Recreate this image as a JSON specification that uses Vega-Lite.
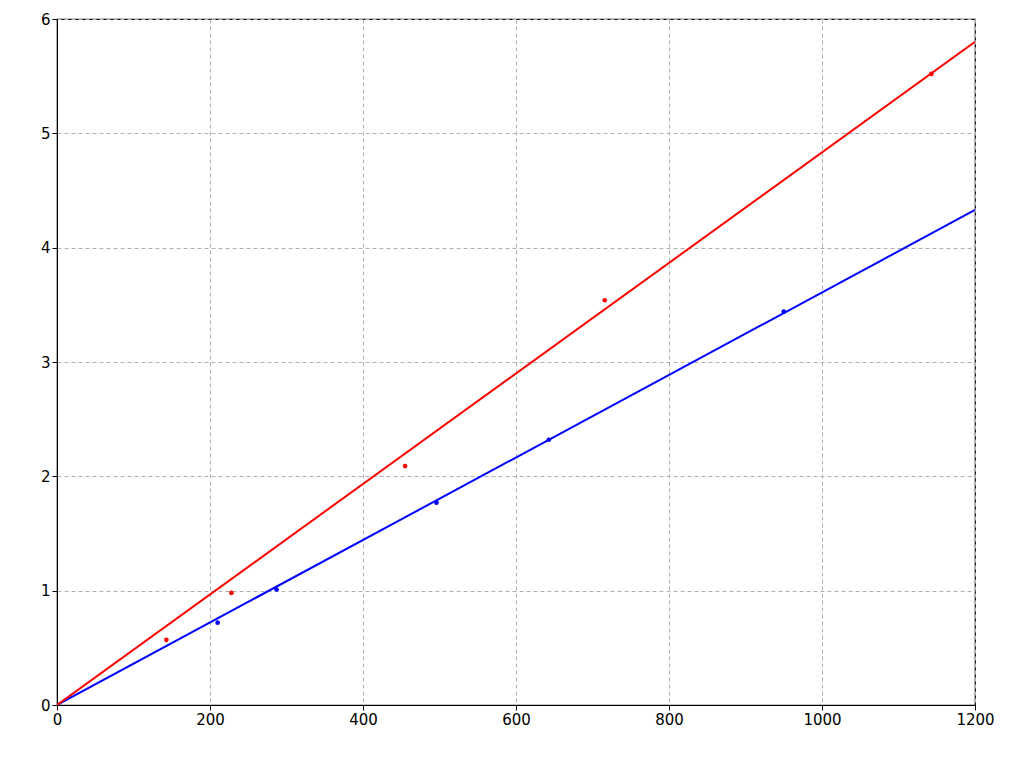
{
  "$schema": "https://vega.github.io/schema/vega-lite/v6.json",
  "width": 918,
  "height": 686,
  "autosize": {"type": "none"},
  "padding": {"left": 57, "top": 19, "right": 45, "bottom": 61},
  "background": "#ffffff",
  "view": {"stroke": "#000000", "strokeWidth": 1.2},
  "datasets": {
    "points": [
      {"series": "q = 0.235 г/с", "x": 210, "y": 0.72},
      {"series": "q = 0.235 г/с", "x": 287, "y": 1.01},
      {"series": "q = 0.235 г/с", "x": 496, "y": 1.77},
      {"series": "q = 0.235 г/с", "x": 643, "y": 2.32},
      {"series": "q = 0.235 г/с", "x": 950, "y": 3.44},
      {"series": "q = 0.174 г/с", "x": 143, "y": 0.57},
      {"series": "q = 0.174 г/с", "x": 228, "y": 0.98},
      {"series": "q = 0.174 г/с", "x": 455, "y": 2.09},
      {"series": "q = 0.174 г/с", "x": 716, "y": 3.54},
      {"series": "q = 0.174 г/с", "x": 1143, "y": 5.52}
    ],
    "fits": [
      {"series": "q = 0.235 г/с", "x": 0, "y": 0},
      {"series": "q = 0.235 г/с", "x": 1200, "y": 4.33},
      {"series": "q = 0.174 г/с", "x": 0, "y": 0},
      {"series": "q = 0.174 г/с", "x": 1200, "y": 5.8}
    ]
  },
  "layer": [
    {
      "data": {"name": "fits"},
      "mark": {"type": "line", "strokeWidth": 2, "clip": true},
      "encoding": {
        "x": {"field": "x", "type": "quantitative"},
        "y": {"field": "y", "type": "quantitative"},
        "detail": {"field": "series"},
        "stroke": {"field": "series", "type": "nominal", "legend": null,
          "scale": {"domain": ["q = 0.235 г/с", "q = 0.174 г/с"], "range": ["#0000ff", "#ff0000"]}}
      }
    },
    {
      "data": {"name": "points"},
      "mark": {"type": "circle", "size": 22, "opacity": 1},
      "encoding": {
        "x": {"field": "x", "type": "quantitative",
          "scale": {"domain": [0, 1200], "nice": false},
          "axis": {"title": null, "values": [0, 200, 400, 600, 800, 1000, 1200], "format": "d", "labelFlush": false, "gridDash": [4, 3], "gridColor": "#b0b0b0", "domainColor": "#000000"}},
        "y": {"field": "y", "type": "quantitative",
          "scale": {"domain": [0, 6], "nice": false},
          "axis": {"title": null, "values": [0, 1, 2, 3, 4, 5, 6], "format": "d", "labelFlush": false, "gridDash": [4, 3], "gridColor": "#b0b0b0", "domainColor": "#000000"}},
        "fill": {"field": "series", "type": "nominal",
          "scale": {"domain": ["q = 0.235 г/с", "q = 0.174 г/с"], "range": ["#0000ff", "#ff0000"]},
          "legend": {"title": null, "orient": "top-left", "offset": 14, "symbolType": "circle", "symbolSize": 30,
            "labelFontSize": 22, "labelFont": "DejaVu Sans", "rowPadding": 8, "padding": 12,
            "strokeColor": "#cccccc", "fillColor": "#ffffff", "cornerRadius": 4, "symbolOffset": 16, "labelOffset": 28}}
      }
    }
  ],
  "config": {
    "axis": {"labelFont": "DejaVu Sans", "labelFontSize": 15, "labelColor": "#000000", "tickColor": "#000000", "tickSize": 5, "gridOpacity": 1}
  }
}
